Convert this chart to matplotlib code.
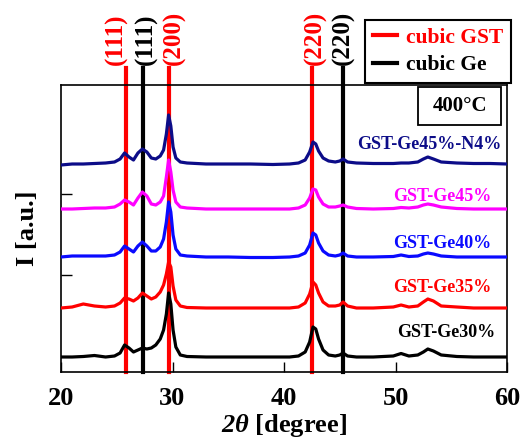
import matplotlib
matplotlib.use("Agg")
import matplotlib.pyplot as plt
from matplotlib.lines import Line2D
from matplotlib.patches import Rectangle

plt.rcParams['font.family'] = ['Liberation Serif', 'DejaVu Serif']
plt.rcParams['font.weight'] = 'bold'
plt.rcParams['mathtext.fontset'] = 'custom'
plt.rcParams['mathtext.rm'] = 'Liberation Serif:italic:bold'
plt.rcParams['mathtext.it'] = 'Liberation Serif:italic:bold'

# 2theta grid shared by all patterns
two_theta = [20, 21, 22, 23, 24, 24.8, 25.3, 25.7, 26.1, 26.5,
             26.9, 27.3, 27.7, 28.1, 28.5, 28.9, 29.2, 29.45, 29.65, 29.85,
             30.05, 30.3, 30.7, 31.3, 33, 35, 37, 39, 40.5, 41.3,
             41.9, 42.3, 42.6, 42.85, 43.1, 43.5, 44.0, 44.6, 45.0, 45.3,
             45.7, 46.5, 48, 49.8, 50.5, 51.2, 52.0, 52.5, 52.9, 53.4,
             54.1, 55.5, 57, 58.5, 60]

# intensities (already stacked, a.u.)
ge30 = [15, 15, 15.5, 16.5, 15, 16, 19, 27, 24, 20,
        22, 24, 23, 24, 27, 33, 42, 58, 79, 68,
        42, 25, 17, 15.5, 15, 15, 15, 15, 15, 16,
        20, 30, 45, 43, 33, 22, 17, 16, 17, 19,
        16, 15, 15, 16, 18.5, 16, 17, 20, 23, 21,
        17, 15.5, 15, 15, 15]
ge35 = [64, 65, 68, 66, 65, 66, 69, 74, 73, 71,
        74, 79, 76, 73, 75, 80, 87, 98, 110, 105,
        86, 72, 66, 64.5, 64, 64, 64, 64, 64, 65,
        69, 78, 90, 87, 79, 70, 66, 66, 67, 70,
        66, 64, 64, 65, 67, 65, 66, 70, 73, 71,
        66, 65, 64, 64, 64]
ge40 = [115, 116, 116, 116, 116, 117, 120, 126, 123, 120,
        126, 130, 126, 121, 121, 125, 133, 150, 170, 160,
        137, 123, 117, 116, 115, 115, 114.5, 114.5, 115, 116,
        119, 127, 139, 137, 129, 121, 117, 116, 117, 119,
        116, 115, 115, 115.5, 117, 115.5, 116, 118, 119, 118,
        116, 115, 115, 115, 115]
ge45 = [163, 163, 163.5, 164, 164, 165, 168, 172, 170, 167,
        174, 180, 176, 168, 167, 170, 176, 195, 212, 200,
        182, 170, 165, 164, 163, 163, 163, 163, 163, 164,
        167, 174, 183, 182, 175, 168, 165, 165, 166, 167,
        165, 163.5, 163, 163.5, 164.5, 164, 165, 167, 168, 167,
        165, 163.5, 163, 163, 163]
ge45_n4 = [207, 208, 208, 208.5, 209, 210, 213, 219, 215, 212,
           219, 223, 220, 214, 213, 216, 222, 238, 257, 246,
           225, 214, 210, 209, 208, 208, 208, 207.5, 208, 209,
           212, 220, 230, 228, 221, 214, 211, 210, 211, 213,
           210, 209, 208.5, 208.5, 209, 209, 210, 213, 215, 213,
           210, 209, 208.5, 208.5, 208]

samples = ['GST-Ge30%', 'GST-Ge35%', 'GST-Ge40%', 'GST-Ge45%', 'GST-Ge45%-N4%']
patterns = [ge30, ge35, ge40, ge45, ge45_n4]
colors = ['#000000', '#ff0000', '#0a0aff', '#ff00ff', '#0c0c88']

# reference peak positions
ref_pos = [25.85, 27.35, 29.7, 42.5, 45.3]
ref_hkl = ['(111)', '(111)', '(200)', '(220)', '(220)']
ref_phase = ['GST', 'Ge', 'GST', 'GST', 'Ge']
phase_color = {'GST': '#ff0000', 'Ge': '#000000'}

fig = plt.figure(figsize=(5.2, 4.41), dpi=100)
ax = fig.add_axes([61 / 520, 69 / 441, 446 / 520, 287 / 441])

for x, ph in zip(ref_pos, ref_phase):
    ax.axvline(x, ymin=0, ymax=1.059, color=phase_color[ph], lw=3.0,
               clip_on=False, zorder=1)

for y, c in zip(patterns, colors):
    ax.plot(two_theta, y, color=c, lw=2.3, zorder=3)

# hkl labels above the axes
label_x = [25.0, 27.62, 30.13, 42.78, 45.29]
for x, hkl, ph in zip(label_x, ref_hkl, ref_phase):
    ax.text(x, 1.071, hkl, transform=ax.get_xaxis_transform(), rotation=90,
            ha='center', va='bottom', fontsize=18, fontweight='bold',
            color=phase_color[ph])

# sample names
name_x = [0.975, 0.966, 0.966, 0.966, 0.987]
name_y = [0.136, 0.296, 0.449, 0.610, 0.791]
for s, c, x, y in zip(samples, colors, name_x, name_y):
    ax.text(x, y, s, transform=ax.transAxes, ha='right', va='center',
            fontsize=13, fontweight='bold', color=c)

# temperature box
ax.add_patch(Rectangle((0.800, 0.861), 0.187, 0.132, transform=ax.transAxes,
                       facecolor='white', edgecolor='black', lw=1.3, zorder=4))
ax.text(0.8935, 0.927, '400°C', transform=ax.transAxes, ha='center',
        va='center', fontsize=15, fontweight='bold', zorder=5)

ax.set_xlim(20, 60)
ax.set_ylim(0, 287)
ax.set_xticks([20, 30, 40, 50, 60])
ax.set_yticks([97, 178])
ax.set_yticklabels([])
ax.tick_params(axis='x', direction='in', length=7, width=1, labelsize=19, pad=11)
ax.tick_params(axis='y', direction='in', length=8, width=1)
for lab in ax.get_xticklabels():
    lab.set_fontweight('bold')
for sp in ax.spines.values():
    sp.set_linewidth(1.2)

ax.set_xlabel(r'$2\theta$ [degree]', fontsize=19, fontweight='bold', labelpad=1)
ax.set_ylabel('I [a.u.]', fontsize=19, fontweight='bold', labelpad=12)

handles = [Line2D([], [], color='#ff0000', lw=3),
           Line2D([], [], color='#000000', lw=3)]
leg = fig.legend(handles, ['cubic GST', 'cubic Ge'], loc='upper right',
                 bbox_to_anchor=(511 / 520, 1 - 20 / 441),
                 prop={'family': 'Liberation Serif', 'weight': 'bold', 'size': 15.5},
                 labelcolor=['#ff0000', '#000000'], fancybox=False,
                 edgecolor='black', framealpha=1, handlelength=1.1,
                 handletextpad=0.45, borderpad=0.35, labelspacing=0.35,
                 borderaxespad=0)
leg.get_frame().set_linewidth(1.5)

fig.savefig('out.png', dpi=100)
